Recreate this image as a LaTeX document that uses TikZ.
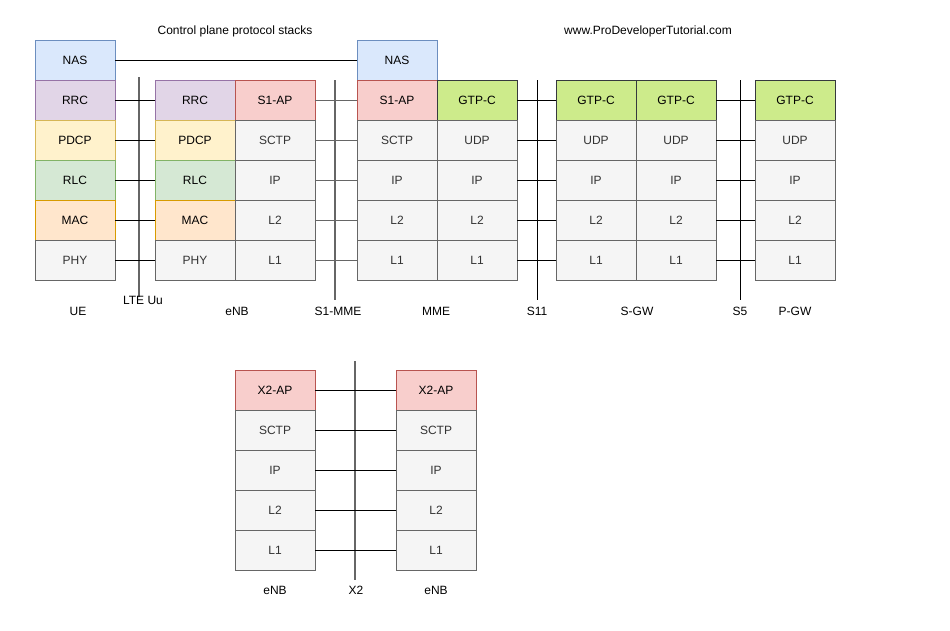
\documentclass[tikz,border=0pt]{standalone}
\usepackage{fontspec}
\setmainfont{Liberation Sans}
\definecolor{nasF}{HTML}{DAE8FC}\definecolor{nasD}{HTML}{6C8EBF}
\definecolor{rrcF}{HTML}{E1D5E7}\definecolor{rrcD}{HTML}{9673A6}
\definecolor{pdcpF}{HTML}{FFF2CC}\definecolor{pdcpD}{HTML}{D6B656}
\definecolor{rlcF}{HTML}{D5E8D4}\definecolor{rlcD}{HTML}{82B366}
\definecolor{macF}{HTML}{FFE6CC}\definecolor{macD}{HTML}{D79B00}
\definecolor{gryF}{HTML}{F5F5F5}\definecolor{gryD}{HTML}{666666}\definecolor{gryT}{HTML}{333333}
\definecolor{apF}{HTML}{F8CECC}\definecolor{apD}{HTML}{B85450}
\definecolor{gtpF}{HTML}{CDEB8B}\definecolor{gtpD}{HTML}{36393D}
\tikzset{
  layer/.style={rectangle, minimum width=80pt, minimum height=40pt, inner sep=0pt, outer sep=0pt, line width=1pt, font=\fontsize{12}{14}\selectfont},
  nas/.style={layer, fill=nasF, draw=nasD},
  rrc/.style={layer, fill=rrcF, draw=rrcD},
  pdcp/.style={layer, fill=pdcpF, draw=pdcpD},
  rlc/.style={layer, fill=rlcF, draw=rlcD},
  mac/.style={layer, fill=macF, draw=macD},
  gry/.style={layer, fill=gryF, draw=gryD, text=gryT},
  ap/.style={layer, fill=apF, draw=apD},
  gtp/.style={layer, fill=gtpF, draw=gtpD},
  lbl/.style={inner sep=0pt, font=\fontsize{12}{14}\selectfont},
  conn/.style={line width=1pt, black},
  connG/.style={line width=1pt, gryD},
  iface/.style={line width=1pt, black},
  ifaceG/.style={line width=1.3pt, gryD},
}
\begin{document}
\begin{tikzpicture}[x=1pt, y=-1pt]
\useasboundingbox (0,0) rectangle (950,630);
% UE
\node[nas]  (ue1) at (75,60)  {NAS};
\node[rrc]  (ue2) at (75,100) {RRC};
\node[pdcp] (ue3) at (75,140) {PDCP};
\node[rlc]  (ue4) at (75,180) {RLC};
\node[mac]  (ue5) at (75,220) {MAC};
\node[gry]  (ue6) at (75,260) {PHY};
% eNB
\node[rrc]  (ea2) at (195,100) {RRC};
\node[pdcp] (ea3) at (195,140) {PDCP};
\node[rlc]  (ea4) at (195,180) {RLC};
\node[mac]  (ea5) at (195,220) {MAC};
\node[gry]  (ea6) at (195,260) {PHY};
\node[ap]   (eb2) at (275,100) {S1-AP};
\node[gry]  (eb3) at (275,140) {SCTP};
\node[gry]  (eb4) at (275,180) {IP};
\node[gry]  (eb5) at (275,220) {L2};
\node[gry]  (eb6) at (275,260) {L1};
% MME
\node[nas]  (ma1) at (397,60)  {NAS};
\node[ap]   (ma2) at (397,100) {S1-AP};
\node[gry]  (ma3) at (397,140) {SCTP};
\node[gry]  (ma4) at (397,180) {IP};
\node[gry]  (ma5) at (397,220) {L2};
\node[gry]  (ma6) at (397,260) {L1};
\node[gtp]  (mb2) at (477,100) {GTP-C};
\node[gry]  (mb3) at (477,140) {UDP};
\node[gry]  (mb4) at (477,180) {IP};
\node[gry]  (mb5) at (477,220) {L2};
\node[gry]  (mb6) at (477,260) {L1};
% S-GW
\node[gtp]  (sa2) at (596,100) {GTP-C};
\node[gry]  (sa3) at (596,140) {UDP};
\node[gry]  (sa4) at (596,180) {IP};
\node[gry]  (sa5) at (596,220) {L2};
\node[gry]  (sa6) at (596,260) {L1};
\node[gtp]  (sb2) at (676,100) {GTP-C};
\node[gry]  (sb3) at (676,140) {UDP};
\node[gry]  (sb4) at (676,180) {IP};
\node[gry]  (sb5) at (676,220) {L2};
\node[gry]  (sb6) at (676,260) {L1};
% P-GW
\node[gtp]  (pg2) at (795,100) {GTP-C};
\node[gry]  (pg3) at (795,140) {UDP};
\node[gry]  (pg4) at (795,180) {IP};
\node[gry]  (pg5) at (795,220) {L2};
\node[gry]  (pg6) at (795,260) {L1};
% X2 stacks
\node[ap]   (xa1) at (275,390) {X2-AP};
\node[gry]  (xa2) at (275,430) {SCTP};
\node[gry]  (xa3) at (275,470) {IP};
\node[gry]  (xa4) at (275,510) {L2};
\node[gry]  (xa5) at (275,550) {L1};
\node[ap]   (xb1) at (436,390) {X2-AP};
\node[gry]  (xb2) at (436,430) {SCTP};
\node[gry]  (xb3) at (436,470) {IP};
\node[gry]  (xb4) at (436,510) {L2};
\node[gry]  (xb5) at (436,550) {L1};
% interface lines
\coordinate (uuT) at (139,77);  \coordinate (uuB) at (139,297);
\coordinate (s1T) at (335,80);  \coordinate (s1B) at (335,300);
\coordinate (s11T) at (537,80); \coordinate (s11B) at (537,300);
\coordinate (s5T) at (740,80);  \coordinate (s5B) at (740,300);
\coordinate (x2T) at (355,361); \coordinate (x2B) at (355,580);
\draw[ifaceG] (uuT) -- (uuB);
\draw[ifaceG] (s1T) -- (s1B);
\draw[iface] (s11T) -- (s11B);
\draw[iface] (s5T) -- (s5B);
\draw[ifaceG] (x2T) -- (x2B);
% peer connectors
\draw[conn] (ue1.east) -- (ma1.west);
\foreach \i in {2,...,6} {
  \draw[conn] (ue\i.east) -- (ea\i.west);
  \draw[connG] (eb\i.east) -- (ma\i.west);
  \draw[conn] (mb\i.east) -- (sa\i.west);
  \draw[conn] (sb\i.east) -- (pg\i.west);
}
\foreach \i in {1,...,5} {
  \draw[conn] (xa\i.east) -- (xb\i.west);
}
% labels
\node[lbl] (t1) at (235,31) {Control plane protocol stacks};
\node[lbl] (t2) at (648,31) {www.ProDeveloperTutorial.com};
\node[lbl] (lue) at (78,311) {UE};
\node[lbl] (luu) at (143,300) {LTE Uu};
\node[lbl] (lenb) at (237,311) {eNB};
\node[lbl] (ls1) at (338,311) {S1-MME};
\node[lbl] (lmme) at (436,311) {MME};
\node[lbl] (ls11) at (537,311) {S11};
\node[lbl] (lsgw) at (637,311) {S-GW};
\node[lbl] (ls5) at (740,311) {S5};
\node[lbl] (lpgw) at (795,311) {P-GW};
\node[lbl] (lx1) at (275,590) {eNB};
\node[lbl] (lx2) at (356,590) {X2};
\node[lbl] (lx3) at (436,590) {eNB};
\end{tikzpicture}
\end{document}
